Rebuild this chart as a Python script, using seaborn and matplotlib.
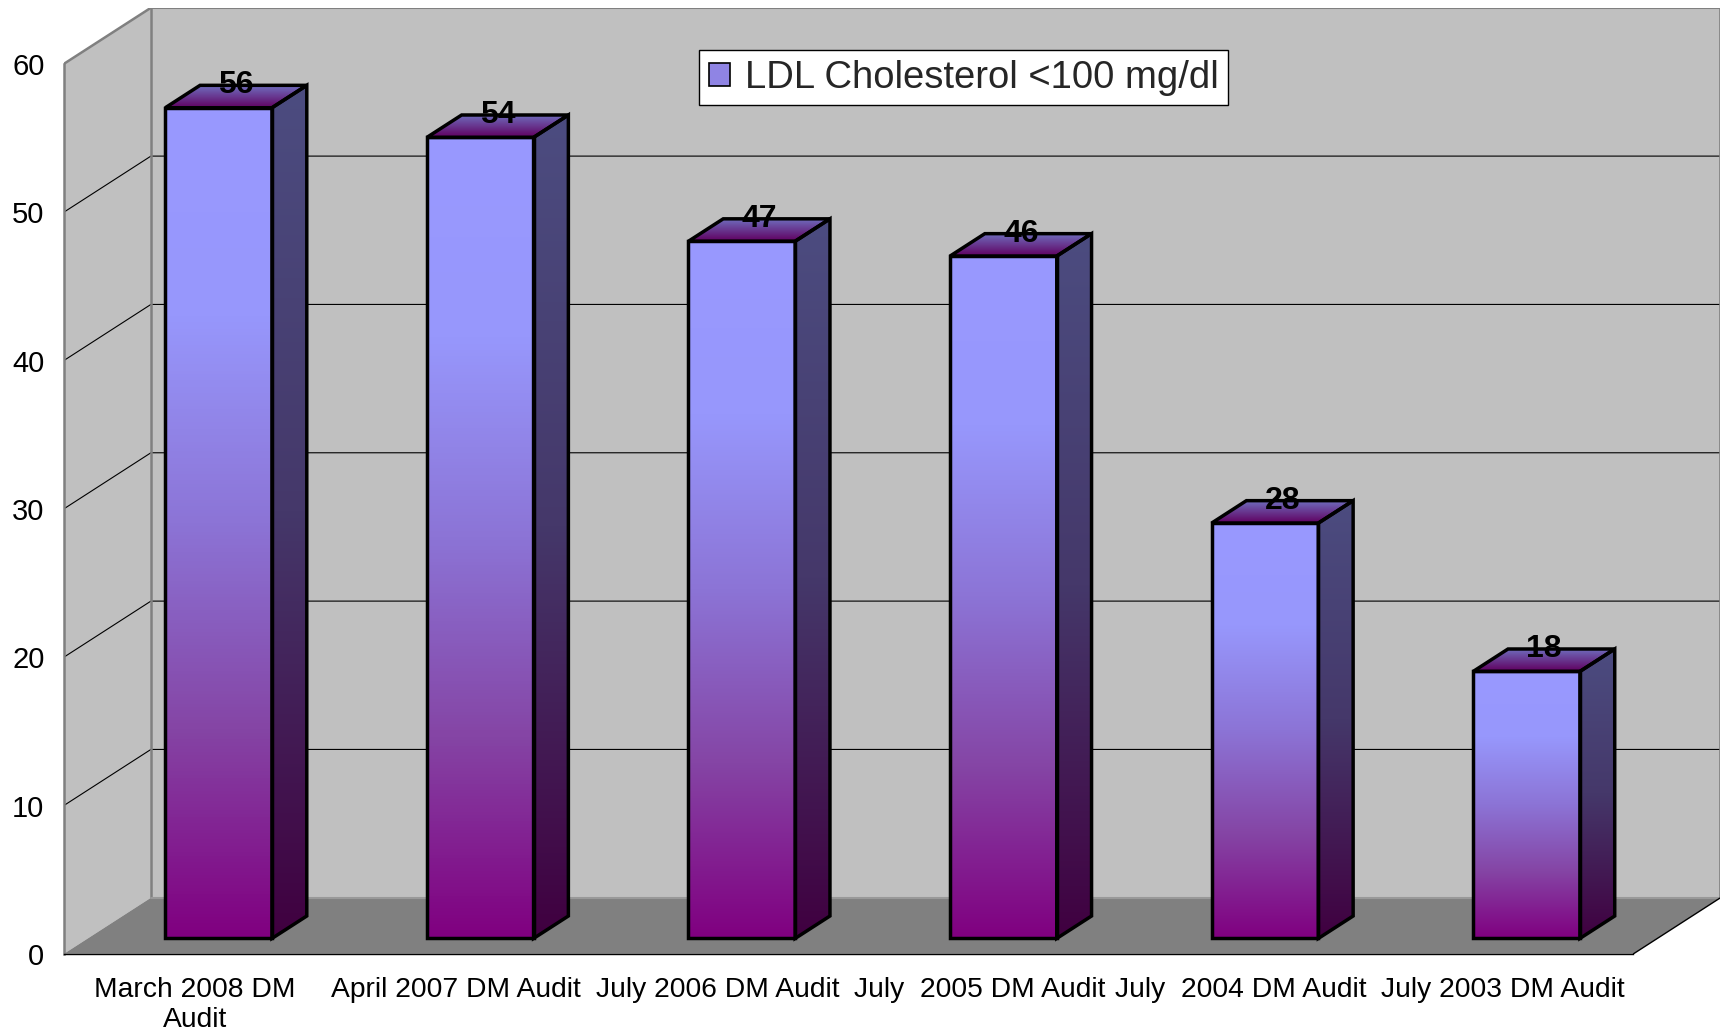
import numpy as np
import matplotlib
matplotlib.use("Agg")
import matplotlib.pyplot as plt
import seaborn as sns
from matplotlib.patches import Polygon, Patch
from matplotlib.colors import LinearSegmentedColormap

# chart data
categories = ["March 2008 DM\nAudit", "April 2007 DM Audit", "July 2006 DM Audit",
              "July  2005 DM Audit", "July  2004 DM Audit", "July 2003 DM Audit"]
values = [56, 54, 47, 46, 28, 18]
yticks = [0, 10, 20, 30, 40, 50, 60]
series_name = "LDL Cholesterol <100 mg/dl"

# fake 3d geometry (in data units)
depth_x, depth_y = 0.3326, 3.78      # full floor depth
front_f, bar_f = 0.275, 0.40         # where bars sit in depth, how deep they are
bar_width = 0.408

front_cmap = LinearSegmentedColormap.from_list(
    "front", [(0, "#800080"), (0.25, "#8545A5"), (0.5, "#8C74D6"), (0.75, "#9797FC"), (1, "#9999FF")])
side_cmap = LinearSegmentedColormap.from_list(
    "side", [(0, "#400040"), (0.5, "#45386A"), (1, "#4C4C80")])
top_cmap = LinearSegmentedColormap.from_list("top", ["#600060", "#7070C0"])
grad = np.linspace(0, 1, 256).reshape(-1, 1)

sns.set_theme(style="white")
plt.rcParams["font.family"] = ["Liberation Sans", "DejaVu Sans"]

fig = plt.figure(figsize=(17.27, 10.36), dpi=100)
ax = fig.add_axes([0.0370, 0.0793, 0.9592, 0.9132])
ax.patch.set_visible(False)

x0, x1 = -0.5, len(categories) - 0.5
top = yticks[-1]

# walls and floor
side = Polygon([(x0, 0), (x0, top), (x0 + depth_x, top + depth_y), (x0 + depth_x, depth_y)],
               closed=True, facecolor="#C0C0C0", edgecolor="none", zorder=0)
back = Polygon([(x0 + depth_x, depth_y), (x0 + depth_x, top + depth_y),
                (x1 + depth_x, top + depth_y), (x1 + depth_x, depth_y)],
               closed=True, facecolor="#C0C0C0", edgecolor="none", zorder=0)
floor = Polygon([(x0, 0), (x1, 0), (x1 + depth_x, depth_y), (x0 + depth_x, depth_y)],
                closed=True, facecolor="#808080", edgecolor="none", zorder=0.5)
for p in (side, back, floor):
    ax.add_patch(p)

for v in yticks[1:-1]:
    ax.plot([x0, x0 + depth_x, x1 + depth_x], [v, v + depth_y, v + depth_y],
            color="black", lw=0.8, zorder=1)

wall_edge = dict(color="#808080", lw=1.8, zorder=1.5, solid_capstyle="projecting")
ax.plot([x0, x0 + depth_x, x1 + depth_x, x1 + depth_x],
        [top, top + depth_y, top + depth_y, depth_y], **wall_edge)
ax.plot([x0 + depth_x, x0 + depth_x], [depth_y, top + depth_y], **wall_edge)
ax.plot([x0 + depth_x, x1 + depth_x], [depth_y, depth_y], color="#999999", lw=1.5, zorder=1.5)
ax.plot([x1, x1 + depth_x], [0, depth_y], color="black", lw=1.0, zorder=1.5)

# bars
sns.barplot(x=categories, y=values, width=bar_width, color="none",
            edgecolor="black", linewidth=2.5, ax=ax, zorder=4)

dx0, dy0 = front_f * depth_x, front_f * depth_y
bdx, bdy = bar_f * depth_x, bar_f * depth_y

for p, v in zip(ax.patches[3:], values):
    p.set_x(p.get_x() + dx0)
    p.set_y(dy0)
    p.set_facecolor("none")
    bx0 = p.get_x()
    bx1 = bx0 + p.get_width()
    by0 = dy0
    by1 = dy0 + p.get_height()

    im = ax.imshow(grad, extent=(bx0, bx1, by0, by1), origin="lower", cmap=front_cmap,
                   aspect="auto", zorder=3, interpolation="bilinear")
    im.set_clip_path(p)

    side_poly = Polygon([(bx1, by0), (bx1 + bdx, by0 + bdy), (bx1 + bdx, by1 + bdy), (bx1, by1)],
                        closed=True, facecolor="none", edgecolor="black", lw=2.5, zorder=4,
                        joinstyle="miter")
    ax.add_patch(side_poly)
    im = ax.imshow(grad, extent=(bx1, bx1 + bdx, by0, by1 + bdy), origin="lower", cmap=side_cmap,
                   aspect="auto", zorder=3, interpolation="bilinear")
    im.set_clip_path(side_poly)

    top_poly = Polygon([(bx0, by1), (bx1, by1), (bx1 + bdx, by1 + bdy), (bx0 + bdx, by1 + bdy)],
                       closed=True, facecolor="none", edgecolor="black", lw=2.5, zorder=4,
                       joinstyle="miter")
    ax.add_patch(top_poly)
    im = ax.imshow(grad, extent=(bx0, bx1 + bdx, by1, by1 + bdy), origin="lower", cmap=top_cmap,
                   aspect="auto", zorder=3, interpolation="bilinear")
    im.set_clip_path(top_poly)

    ax.text((bx0 + bx1) / 2 + bdx / 2, by1 + bdy, f"{v}", ha="center", va="center",
            fontsize=23, fontweight="bold", color="black", zorder=6)

# axes, ticks
ax.set_xlim(x0, x1 + depth_x)
ax.set_ylim(0, top + depth_y)
ax.set_yticks(yticks)
ax.set_yticklabels([str(t) for t in yticks], fontsize=21)
ax.set_xticks(range(len(categories)))
ax.set_xticklabels(categories, fontsize=20.3, family=["Liberation Sans Narrow", "Liberation Sans"],
                   linespacing=1.2)
ax.set_xticks(np.arange(x0, x1 + 0.01, 1.0), minor=True)
ax.tick_params(axis="x", which="major", length=0, pad=17, colors="black")
ax.tick_params(axis="x", which="minor", length=11, width=1, direction="out", color="black")
ax.tick_params(axis="y", length=8, width=1, direction="out", color="black", pad=6,
               labelcolor="black")
ax.set_xlabel("")
ax.set_ylabel("")
for s in ("top", "right"):
    ax.spines[s].set_visible(False)
ax.spines["left"].set_bounds(0, top)
ax.spines["left"].set_color("#808080")
ax.spines["left"].set_linewidth(1.8)
ax.spines["bottom"].set_bounds(x0, x1)
ax.spines["bottom"].set_color("black")
ax.spines["bottom"].set_linewidth(1.0)
ax.spines["left"].set_zorder(2)

# legend
handle = Patch(facecolor="#8F84E4", edgecolor="black", linewidth=1.2)
leg = fig.legend(handles=[handle], labels=[series_name], loc="center",
                 bbox_to_anchor=(0.558, 0.925), fontsize=27.5, frameon=True, fancybox=False,
                 framealpha=1, edgecolor="black", handlelength=0.55, handleheight=0.55,
                 handletextpad=0.4, borderpad=0.25, borderaxespad=0)
leg.get_frame().set_linewidth(1.0)

fig.savefig("out.png", dpi=100, facecolor="white")
